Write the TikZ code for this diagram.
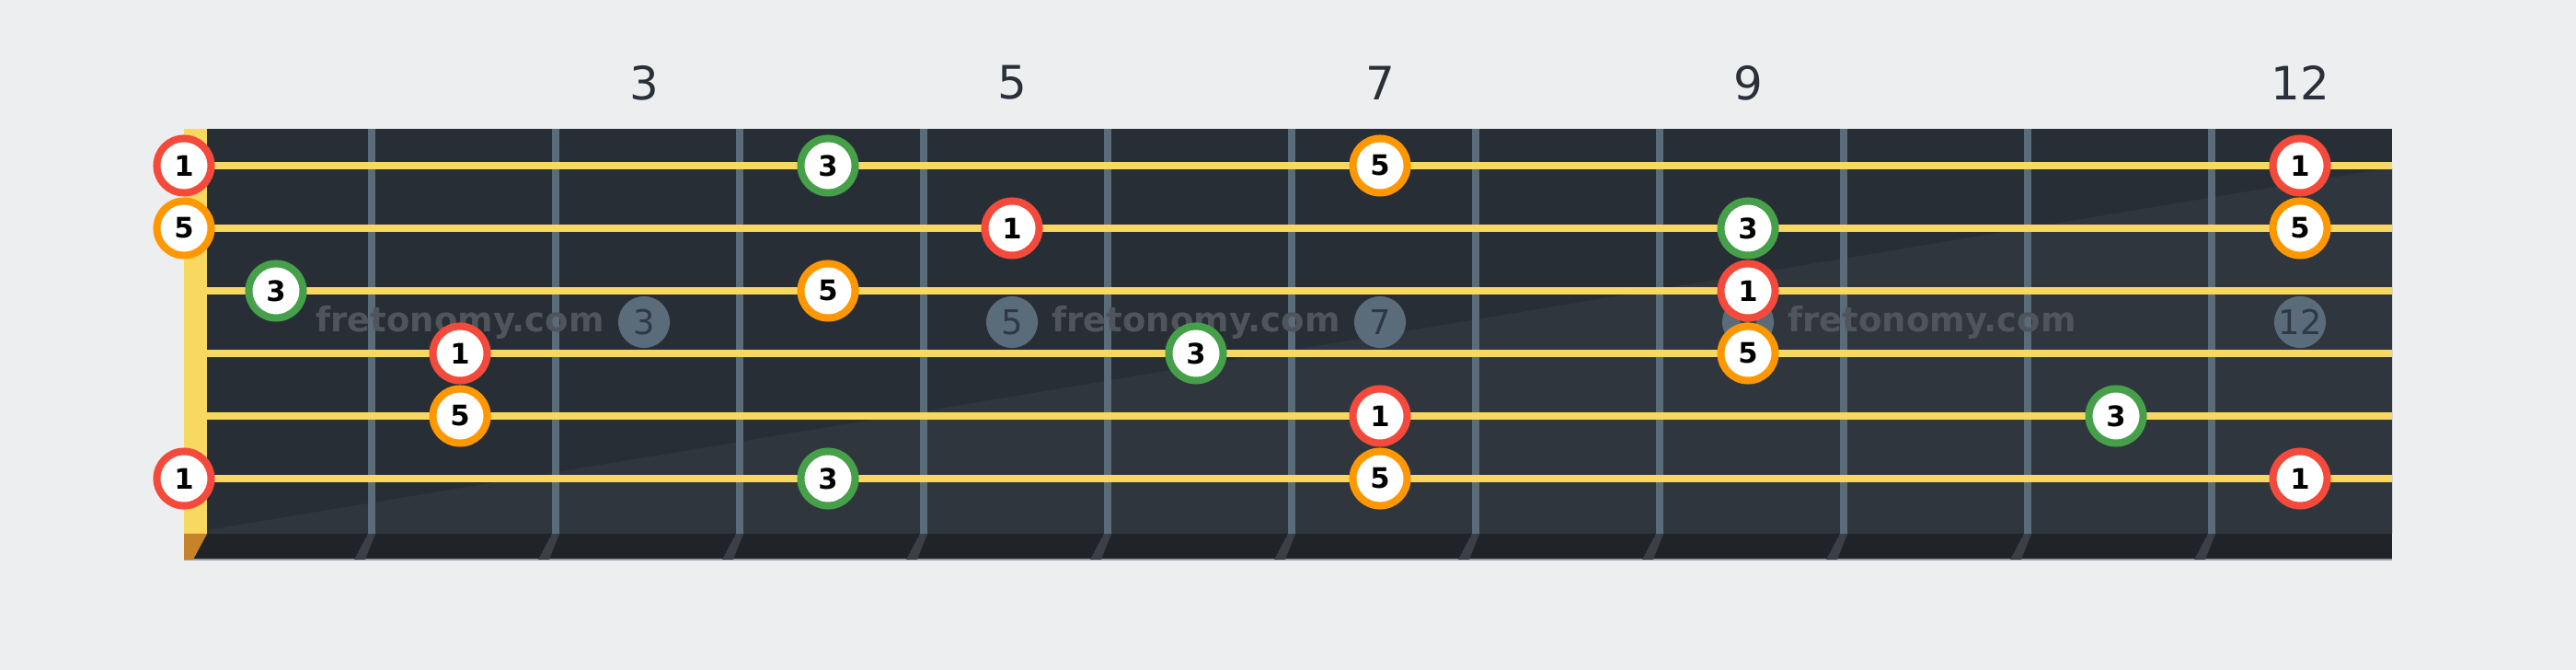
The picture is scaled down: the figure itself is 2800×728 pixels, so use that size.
\documentclass[tikz,border=0pt]{standalone}
\usepackage{fontspec}
\setmainfont{DejaVu Sans}

\definecolor{pagebg}{RGB}{237,238,240}
\definecolor{boardc}{RGB}{40,46,54}
\definecolor{boardlight}{RGB}{48,54,62}
\definecolor{edgec}{RGB}{32,35,39}
\definecolor{fretc}{RGB}{90,107,122}
\definecolor{shadowc}{RGB}{60,64,70}
\definecolor{stringc}{RGB}{248,216,98}
\definecolor{nutc}{RGB}{248,216,96}
\definecolor{nutend}{RGB}{200,130,42}
\definecolor{rootc}{RGB}{244,74,60}
\definecolor{fifthc}{RGB}{255,152,0}
\definecolor{thirdc}{RGB}{70,160,74}
\definecolor{labelc}{RGB}{43,48,56}
\definecolor{markc}{RGB}{46,57,69}
\definecolor{wmarkc}{RGB}{80,85,92}

\tikzset{
  note/.style={circle, draw, fill=white, line width=2.28pt, minimum size=0.59cm, inner sep=0pt,
    font=\fontsize{8.7}{9}\selectfont\bfseries},
  root/.style={note, draw=rootc},
  fifth/.style={note, draw=fifthc},
  third/.style={note, draw=thirdc},
  marker/.style={circle, fill=fretc, minimum size=0.56cm, inner sep=0pt, text=markc,
    font=\fontsize{10.5}{11}\selectfont},
  fretlabel/.style={text=labelc, font=\fontsize{14.2}{15}\selectfont},
  wmark/.style={text=wmarkc, font=\fontsize{10.5}{11}\selectfont\bfseries},
  string/.style={draw=stringc, line width=2.28pt}
}

\begin{document}
\begin{tikzpicture}[x=0.01cm, y=-0.01cm]

\fill [pagebg] (0,0) rectangle (2800,728);
\useasboundingbox (0,0) rectangle (2800,728);

\fill [boardc] (225,140) rectangle (2600,580);
\fill [boardlight] (225,576) -- (2600,182) -- (2600,580) -- (225,580) -- cycle;
\fill [edgec] (200,580) rectangle (2600,608);
\draw [fretc!60!pagebg, line width=0.6pt] (200,608) -- (2600,608);
\fill [nutc] (200,140) rectangle (225,580);
\fill [nutend] (200,580) -- (225,580) -- (210,608) -- (200,608) -- cycle;

\fill [shadowc] (400,580) -- (408,580) -- (397,608) -- (385,608) -- cycle;
\fill [shadowc] (600,580) -- (608,580) -- (597,608) -- (585,608) -- cycle;
\fill [shadowc] (800,580) -- (808,580) -- (797,608) -- (785,608) -- cycle;
\fill [shadowc] (1000,580) -- (1008,580) -- (997,608) -- (985,608) -- cycle;
\fill [shadowc] (1200,580) -- (1208,580) -- (1197,608) -- (1185,608) -- cycle;
\fill [shadowc] (1400,580) -- (1408,580) -- (1397,608) -- (1385,608) -- cycle;
\fill [shadowc] (1600,580) -- (1608,580) -- (1597,608) -- (1585,608) -- cycle;
\fill [shadowc] (1800,580) -- (1808,580) -- (1797,608) -- (1785,608) -- cycle;
\fill [shadowc] (2000,580) -- (2008,580) -- (1997,608) -- (1985,608) -- cycle;
\fill [shadowc] (2200,580) -- (2208,580) -- (2197,608) -- (2185,608) -- cycle;
\fill [shadowc] (2400,580) -- (2408,580) -- (2397,608) -- (2385,608) -- cycle;

\fill [fretc] (400,140) rectangle (408,580);
\fill [fretc] (600,140) rectangle (608,580);
\fill [fretc] (800,140) rectangle (808,580);
\fill [fretc] (1000,140) rectangle (1008,580);
\fill [fretc] (1200,140) rectangle (1208,580);
\fill [fretc] (1400,140) rectangle (1408,580);
\fill [fretc] (1600,140) rectangle (1608,580);
\fill [fretc] (1800,140) rectangle (1808,580);
\fill [fretc] (2000,140) rectangle (2008,580);
\fill [fretc] (2200,140) rectangle (2208,580);
\fill [fretc] (2400,140) rectangle (2408,580);

\node [fretlabel] (l3) at (700,90) {3};
\node [fretlabel] (l5) at (1100,90) {5};
\node [fretlabel] (l7) at (1500,90) {7};
\node [fretlabel] (l9) at (1900,90) {9};
\node [fretlabel] (l12) at (2500,90) {12};

\node [marker] (m3) at (700,350) {3};
\node [marker] (m5) at (1100,350) {5};
\node [marker] (m7) at (1500,350) {7};
\node [marker] (m9) at (1900,350) {9};
\node [marker] (m12) at (2500,350) {12};

\node [wmark] (w1) at (500,350) {fretonomy.com};
\node [wmark] (w2) at (1300,350) {fretonomy.com};
\node [wmark] (w3) at (2100,350) {fretonomy.com};

\draw [string] (225,180) -- (2600,180);
\draw [string] (225,248) -- (2600,248);
\draw [string] (225,316) -- (2600,316);
\draw [string] (225,384) -- (2600,384);
\draw [string] (225,452) -- (2600,452);
\draw [string] (225,520) -- (2600,520);

\node [root] (s1f0) at (200,180) {1};
\node [third] (s1f4) at (900,180) {3};
\node [fifth] (s1f7) at (1500,180) {5};
\node [root] (s1f12) at (2500,180) {1};

\node [fifth] (s2f0) at (200,248) {5};
\node [root] (s2f5) at (1100,248) {1};
\node [third] (s2f9) at (1900,248) {3};
\node [fifth] (s2f12) at (2500,248) {5};

\node [third] (s3f1) at (300,316) {3};
\node [fifth] (s3f4) at (900,316) {5};
\node [root] (s3f9) at (1900,316) {1};

\node [root] (s4f2) at (500,384) {1};
\node [third] (s4f6) at (1300,384) {3};
\node [fifth] (s4f9) at (1900,384) {5};

\node [fifth] (s5f2) at (500,452) {5};
\node [root] (s5f7) at (1500,452) {1};
\node [third] (s5f11) at (2300,452) {3};

\node [root] (s6f0) at (200,520) {1};
\node [third] (s6f4) at (900,520) {3};
\node [fifth] (s6f7) at (1500,520) {5};
\node [root] (s6f12) at (2500,520) {1};

\end{tikzpicture}
\end{document}
